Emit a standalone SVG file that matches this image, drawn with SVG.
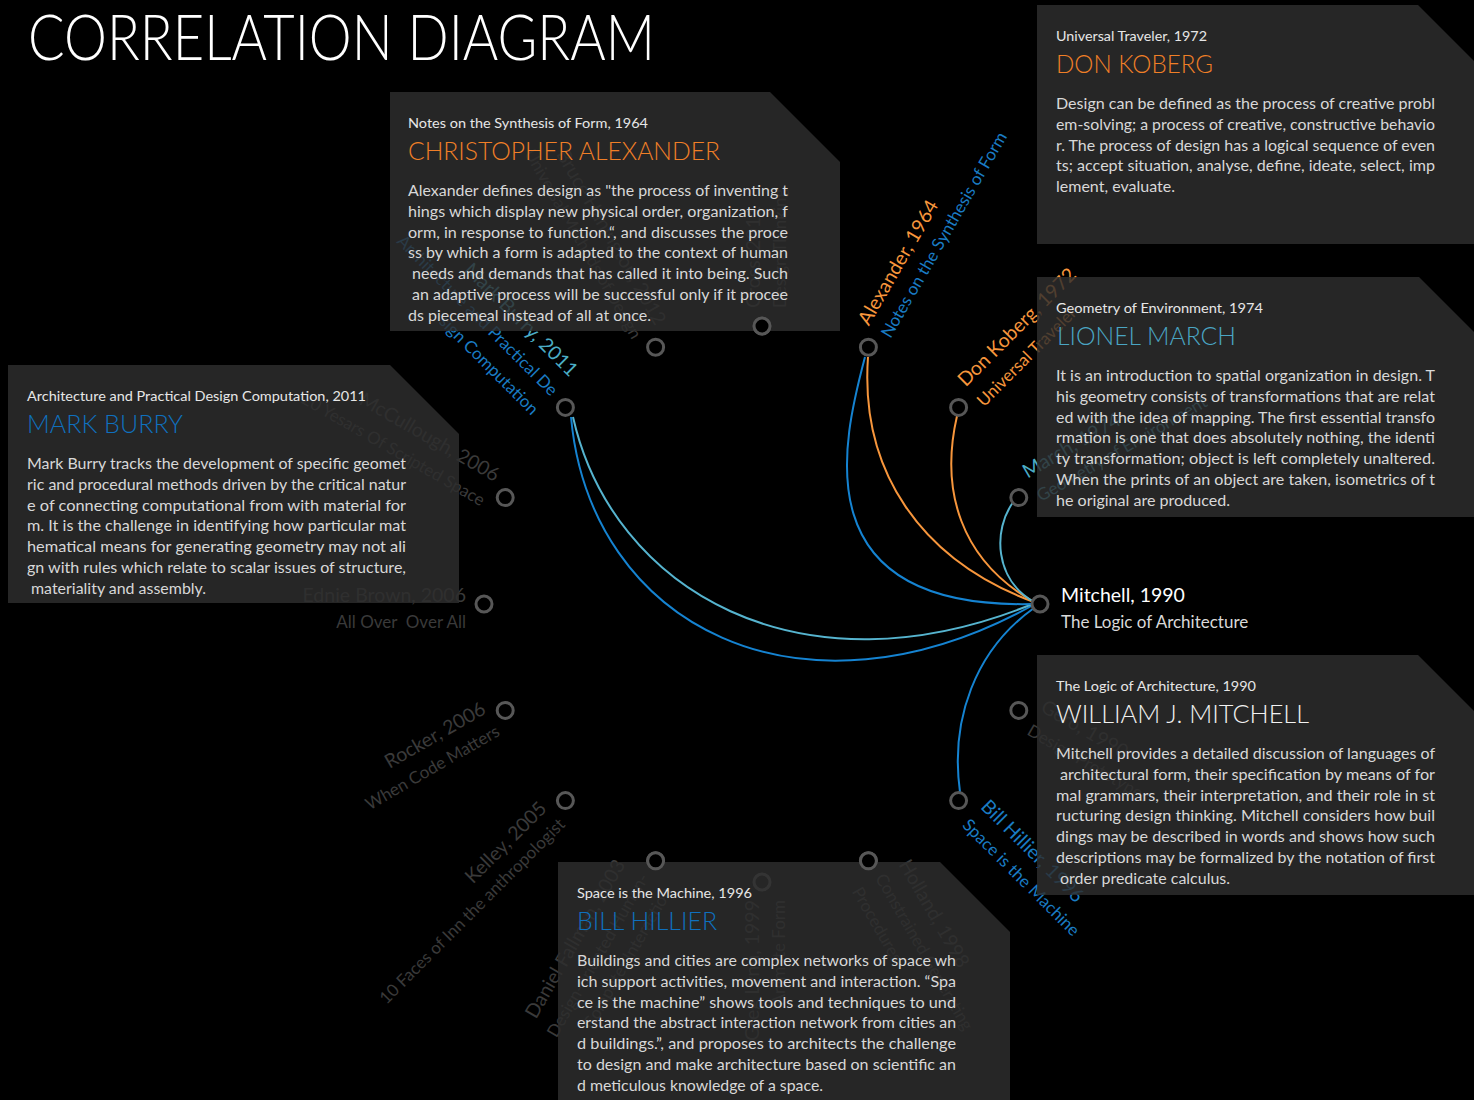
<svg xmlns="http://www.w3.org/2000/svg" xmlns:xlink="http://www.w3.org/1999/xlink" width="1474" height="1100" viewBox="0 0 1474 1100">
  <defs>
    <style>
      text { font-family: Lato, "Open Sans", "Liberation Sans", sans-serif; }
      .heading { font-size: 63px; font-weight: 300; fill: #ffffff; }
      .card { fill: #2e2e2e; fill-opacity: 0.83; }
      .src { font-size: 13.5px; fill: #e6e6e6; }
      .who { font-size: 25px; font-weight: 300; }
      .body { font-size: 16px; fill: #d8d8d8; }
      .dot { fill: #000000; stroke: #575757; stroke-width: 3; }
      .link { fill: none; stroke-width: 2; }
      .nm { font-size: 19.5px; }
      .sb { font-size: 17px; }
      .end { text-anchor: end; }
      .faint { fill: #3a3a3a; }
      .orange { fill: #f7963c; }
      .blue { fill: #1a7cc4; }
      .teal { fill: #4bacc6; }
    </style>
  </defs>

  <rect x="0" y="0" width="1474" height="1100" fill="#000000"/>

  <text class="heading" x="28" y="60" textLength="627" lengthAdjust="spacingAndGlyphs">CORRELATION DIAGRAM</text>

  <!-- links from the Mitchell node to the works it relates to -->
  <g id="connectors">
    <path class="link" stroke="#1583d1" d="M571,417 C590,625 800,735 1035,604"/>
    <path class="link" stroke="#56b4cf" d="M573,417 C612,590 800,700 1035,603"/>
    <path class="link" stroke="#1583d1" d="M865,357 C843,440 800,610 1034,604"/>
    <path class="link" stroke="#f7963c" d="M868,357 C860,470 920,560 1034,602"/>
    <path class="link" stroke="#f7963c" d="M957,416 C940,490 960,560 1034,602"/>
    <path class="link" stroke="#56b4cf" d="M1014,501 C992,530 995,580 1034,602"/>
    <path class="link" stroke="#1583d1" d="M960,792 C950,720 975,650 1034,608"/>
  </g>

  <!-- ring of works, centre (762,604), radius 277 -->
  <g id="node-mitchell" transform="translate(1040,604)">
    <text class="nm" x="21" y="-2" fill="#ffffff" font-size="20">Mitchell, 1990</text>
    <text class="sb" x="21" y="24" fill="#d9d9d9">The Logic of Architecture</text>
    <circle id="dot-mitchell" class="dot" r="8"/>
  </g>
  <g id="node-gero" transform="translate(1018.8,710.4)">
    <g transform="rotate(30)">
      <text class="nm faint" x="18" y="-10">Gero, 1990</text>
      <text class="sb faint" x="18" y="17">Design Prototypes</text>
    </g>
    <circle class="dot" r="8"/>
  </g>
  <g id="node-hillier" transform="translate(958.6,800.6)">
    <g transform="rotate(45)">
      <text class="nm blue" x="20" y="-10">Bill Hillier, 1996</text>
      <text class="sb blue" x="20" y="16">Space is the Machine</text>
    </g>
    <circle class="dot" r="8"/>
  </g>
  <g id="node-holland" transform="translate(868.4,860.8)">
    <g transform="rotate(60)">
      <text class="nm faint" x="18" y="-24">Holland, 1998</text>
      <text class="sb faint" x="18" y="3">Constrained Generating</text>
      <text class="sb faint" x="18" y="30">Procedures</text>
    </g>
    <circle id="dot-holland" class="dot" r="8"/>
  </g>
  <g id="node-lynn" transform="translate(762,882)">
    <g transform="rotate(-90)">
      <text class="nm faint end" x="-18" y="-3">Greg Lynn, 1999</text>
      <text class="sb faint end" x="-18" y="23">Animate Form</text>
    </g>
    <circle id="dot-lynn" class="dot" r="8"/>
  </g>
  <g id="node-fallman" transform="translate(655.6,860.8)">
    <g transform="rotate(-60)">
      <text class="nm faint end" x="-18" y="-24">Daniel Fallman, 2003</text>
      <text class="sb faint end" x="-18" y="3">Design-oriented Human-</text>
      <text class="sb faint end" x="-18" y="30">Computer Interaction</text>
    </g>
    <circle id="dot-fallman" class="dot" r="8"/>
  </g>
  <g id="node-kelley" transform="translate(565.4,800.6)">
    <g transform="rotate(-45)">
      <text class="nm faint end" x="-19" y="-6">Kelley, 2005</text>
      <text class="sb faint end" x="-17" y="18">10 Faces of Inn the anthropologist</text>
    </g>
    <circle class="dot" r="8"/>
  </g>
  <g id="node-rocker" transform="translate(505.2,710.4)">
    <g transform="rotate(-30)">
      <text class="nm faint end" x="-17" y="-7">Rocker, 2006</text>
      <text class="sb faint end" x="-16" y="19">When Code Matters</text>
    </g>
    <circle class="dot" r="8"/>
  </g>
  <g id="node-ednie-brown" transform="translate(484,604)">
    <text class="nm faint end" x="-18" y="-2">Ednie Brown, 2006</text>
    <text class="sb faint end" x="-18" y="24">All Over&#160; Over All</text>
    <circle class="dot" r="8"/>
  </g>
  <g id="node-mccullough" transform="translate(505.2,497.6)">
    <g transform="rotate(30)">
      <text class="nm faint end" x="-17" y="-8">McCullough, 2006</text>
      <text class="sb faint end" x="-17" y="20">20 Yesars Of Scripted Space</text>
    </g>
    <circle class="dot" r="8"/>
  </g>
  <g id="node-burry" transform="translate(565.4,407.4)">
    <g transform="rotate(45)">
      <text class="nm teal end" x="-18" y="-24">Mark Burry, 2011</text>
      <text class="sb blue end" x="-18" y="3">Architecture and Practical De</text>
      <text class="sb blue end" x="-18" y="30">sign Computation</text>
    </g>
    <circle class="dot" r="8"/>
  </g>
  <g id="node-hanington" transform="translate(655.6,347.2)">
    <g transform="rotate(60)">
      <text class="nm faint end" x="-18" y="-10">Bruce Hanington, 2012</text>
      <text class="sb faint end" x="-18" y="17">Universal Methods of Design</text>
    </g>
    <circle class="dot" r="8"/>
  </g>
  <g id="node-cross" transform="translate(762,326)">
    <g transform="rotate(-90)">
      <text class="nm faint" x="18" y="-2">Cross, 2011</text>
      <text class="sb faint" x="18" y="24">Design Thinking</text>
    </g>
    <circle id="dot-cross" class="dot" r="8"/>
  </g>
  <g id="node-alexander" transform="translate(868.4,347.2)">
    <g transform="rotate(-60)">
      <text class="nm orange" x="18" y="-10">Alexander, 1964</text>
      <text class="sb blue" x="18" y="15">Notes on the Synthesis of Form</text>
    </g>
    <circle class="dot" r="8"/>
  </g>
  <g id="node-koberg" transform="translate(958.6,407.4)">
    <g transform="rotate(-45)">
      <text class="nm orange" x="19" y="-9">Don Koberg, 1972</text>
      <text class="sb orange" x="18" y="18">Universal Traveler</text>
    </g>
    <circle class="dot" r="8"/>
  </g>
  <g id="node-march" transform="translate(1018.8,497.6)">
    <g transform="rotate(-30)">
      <text class="nm teal" x="17" y="-12">March, 1974</text>
      <text class="sb teal" x="17" y="15">Geometry of Environment</text>
    </g>
    <circle class="dot" r="8"/>
  </g>

  <!-- detail cards -->
  <g id="card-alexander">
    <polygon class="card" points="390,92 770,92 840,162 840,331 390,331"/>
    <text class="src" x="408" y="128" textLength="240" lengthAdjust="spacingAndGlyphs">Notes on the Synthesis of Form, 1964</text>
    <text class="who" x="408" y="160" fill="#f07f27" textLength="312" lengthAdjust="spacingAndGlyphs">CHRISTOPHER ALEXANDER</text>
    <text class="body" x="408" y="196" textLength="380" lengthAdjust="spacingAndGlyphs">Alexander defines design as "the process of inventing t</text>
    <text class="body" x="408" y="216.8" textLength="380" lengthAdjust="spacingAndGlyphs">hings which display new physical order, organization, f</text>
    <text class="body" x="408" y="237.6" textLength="380" lengthAdjust="spacingAndGlyphs">orm, in response to function.“, and discusses the proce</text>
    <text class="body" x="408" y="258.4" textLength="380" lengthAdjust="spacingAndGlyphs">ss by which a form is adapted to the context of human</text>
    <text class="body" x="412" y="279.2" textLength="376" lengthAdjust="spacingAndGlyphs">needs and demands that has called it into being. Such</text>
    <text class="body" x="412" y="300" textLength="376" lengthAdjust="spacingAndGlyphs">an adaptive process will be successful only if it procee</text>
    <text class="body" x="408" y="320.8" textLength="243" lengthAdjust="spacingAndGlyphs">ds piecemeal instead of all at once.</text>
  </g>

  <g id="card-burry">
    <polygon class="card" points="8,365 390,365 459,434 459,603 8,603"/>
    <text class="src" x="27" y="401" textLength="339" lengthAdjust="spacingAndGlyphs">Architecture and Practical Design Computation, 2011</text>
    <text class="who" x="27" y="433" fill="#0f70be" textLength="156" lengthAdjust="spacingAndGlyphs">MARK BURRY</text>
    <text class="body" x="27" y="469" textLength="379" lengthAdjust="spacingAndGlyphs">Mark Burry tracks the development of specific geomet</text>
    <text class="body" x="27" y="489.8" textLength="379" lengthAdjust="spacingAndGlyphs">ric and procedural methods driven by the critical natur</text>
    <text class="body" x="27" y="510.6" textLength="379" lengthAdjust="spacingAndGlyphs">e of connecting computational from with material for</text>
    <text class="body" x="27" y="531.4" textLength="379" lengthAdjust="spacingAndGlyphs">m. It is the challenge in identifying how particular mat</text>
    <text class="body" x="27" y="552.2" textLength="379" lengthAdjust="spacingAndGlyphs">hematical means for generating geometry may not ali</text>
    <text class="body" x="27" y="573" textLength="379" lengthAdjust="spacingAndGlyphs">gn with rules which relate to scalar issues of structure,</text>
    <text class="body" x="31" y="593.8" textLength="175" lengthAdjust="spacingAndGlyphs">materiality and assembly.</text>
  </g>

  <g id="card-koberg">
    <polygon class="card" points="1037,5 1418,5 1488,75 1488,244 1037,244"/>
    <text class="src" x="1056" y="41" textLength="151" lengthAdjust="spacingAndGlyphs">Universal Traveler, 1972</text>
    <text class="who" x="1056" y="73" fill="#f07f27" textLength="157" lengthAdjust="spacingAndGlyphs">DON KOBERG</text>
    <text class="body" x="1056" y="109" textLength="379" lengthAdjust="spacingAndGlyphs">Design can be defined as the process of creative probl</text>
    <text class="body" x="1056" y="129.8" textLength="379" lengthAdjust="spacingAndGlyphs">em-solving; a process of creative, constructive behavio</text>
    <text class="body" x="1056" y="150.6" textLength="379" lengthAdjust="spacingAndGlyphs">r. The process of design has a logical sequence of even</text>
    <text class="body" x="1056" y="171.4" textLength="379" lengthAdjust="spacingAndGlyphs">ts; accept situation, analyse, define, ideate, select, imp</text>
    <text class="body" x="1056" y="192.2" textLength="119" lengthAdjust="spacingAndGlyphs">lement, evaluate.</text>
  </g>

  <g id="card-march">
    <polygon class="card" points="1037,277 1419,277 1488,346 1488,517 1037,517"/>
    <text class="src" x="1056" y="313" textLength="207" lengthAdjust="spacingAndGlyphs">Geometry of Environment, 1974</text>
    <text class="who" x="1057" y="345" fill="#4aa5c3" textLength="179" lengthAdjust="spacingAndGlyphs">LIONEL MARCH</text>
    <text class="body" x="1056" y="381" textLength="379" lengthAdjust="spacingAndGlyphs">It is an introduction to spatial organization in design. T</text>
    <text class="body" x="1056" y="401.8" textLength="379" lengthAdjust="spacingAndGlyphs">his geometry consists of transformations that are relat</text>
    <text class="body" x="1056" y="422.6" textLength="379" lengthAdjust="spacingAndGlyphs">ed with the idea of mapping. The first essential transfo</text>
    <text class="body" x="1056" y="443.4" textLength="379" lengthAdjust="spacingAndGlyphs">rmation is one that does absolutely nothing, the identi</text>
    <text class="body" x="1056" y="464.2" textLength="379" lengthAdjust="spacingAndGlyphs">ty transformation; object is left completely unaltered.</text>
    <text class="body" x="1056" y="485" textLength="379" lengthAdjust="spacingAndGlyphs">When the prints of an object are taken, isometrics of t</text>
    <text class="body" x="1056" y="505.8" textLength="174" lengthAdjust="spacingAndGlyphs">he original are produced.</text>
  </g>

  <g id="card-mitchell">
    <polygon class="card" points="1037,655 1418,655 1488,725 1488,895 1037,895"/>
    <text class="src" x="1056" y="691" textLength="200" lengthAdjust="spacingAndGlyphs">The Logic of Architecture, 1990</text>
    <text class="who" x="1056" y="723" fill="#f2f2f2" textLength="253" lengthAdjust="spacingAndGlyphs">WILLIAM J. MITCHELL</text>
    <text class="body" x="1056" y="759" textLength="379" lengthAdjust="spacingAndGlyphs">Mitchell provides a detailed discussion of languages of</text>
    <text class="body" x="1060" y="779.8" textLength="375" lengthAdjust="spacingAndGlyphs">architectural form, their specification by means of for</text>
    <text class="body" x="1056" y="800.6" textLength="379" lengthAdjust="spacingAndGlyphs">mal grammars, their interpretation, and their role in st</text>
    <text class="body" x="1056" y="821.4" textLength="379" lengthAdjust="spacingAndGlyphs">ructuring design thinking. Mitchell considers how buil</text>
    <text class="body" x="1056" y="842.2" textLength="379" lengthAdjust="spacingAndGlyphs">dings may be described in words and shows how such</text>
    <text class="body" x="1056" y="863" textLength="379" lengthAdjust="spacingAndGlyphs">descriptions may be formalized by the notation of first</text>
    <text class="body" x="1060" y="883.8" textLength="170" lengthAdjust="spacingAndGlyphs">order predicate calculus.</text>
  </g>

  <g id="card-hillier">
    <polygon class="card" points="558,862 940,862 1010,932 1010,1110 558,1110"/>
    <text class="src" x="577" y="898" textLength="175" lengthAdjust="spacingAndGlyphs">Space is the Machine, 1996</text>
    <text class="who" x="577" y="930" fill="#0f70be" textLength="140" lengthAdjust="spacingAndGlyphs">BILL HILLIER</text>
    <text class="body" x="577" y="966" textLength="379" lengthAdjust="spacingAndGlyphs">Buildings and cities are complex networks of space wh</text>
    <text class="body" x="577" y="986.8" textLength="379" lengthAdjust="spacingAndGlyphs">ich support activities, movement and interaction. “Spa</text>
    <text class="body" x="577" y="1007.6" textLength="379" lengthAdjust="spacingAndGlyphs">ce is the machine” shows tools and techniques to und</text>
    <text class="body" x="577" y="1028.4" textLength="379" lengthAdjust="spacingAndGlyphs">erstand the abstract interaction network from cities an</text>
    <text class="body" x="577" y="1049.2" textLength="379" lengthAdjust="spacingAndGlyphs">d buildings.”, and proposes to architects the challenge</text>
    <text class="body" x="577" y="1070" textLength="379" lengthAdjust="spacingAndGlyphs">to design and make architecture based on scientific an</text>
    <text class="body" x="577" y="1090.8" textLength="246" lengthAdjust="spacingAndGlyphs">d meticulous knowledge of a space.</text>
  </g>

  <!-- rings that sit on the edge of a card stay on top of it -->
  <g id="ring-overlay">
    <use xlink:href="#dot-cross" transform="translate(762,326)"/>
    <use xlink:href="#dot-holland" transform="translate(868.4,860.8)"/>
    <use xlink:href="#dot-fallman" transform="translate(655.6,860.8)"/>
  </g>
</svg>
